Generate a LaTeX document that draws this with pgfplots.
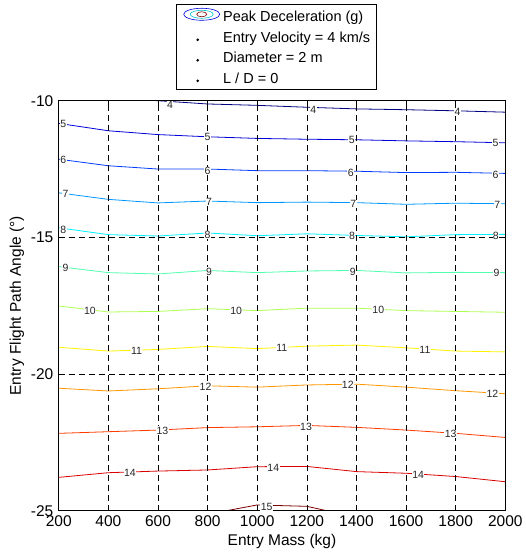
\documentclass[border=0pt]{standalone}
\usepackage{fontspec}
\setmainfont{Liberation Sans}
\usepackage{pgfplots}
\pgfplotsset{compat=1.18}
\definecolor{c4}{rgb}{0,0,0.5}
\definecolor{c5}{rgb}{0,0,0.86}
\definecolor{c6}{rgb}{0,0.23,1}
\definecolor{c7}{rgb}{0,0.59,1}
\definecolor{c8}{rgb}{0,0.95,1}
\definecolor{c9}{rgb}{0.32,1,0.68}
\definecolor{c10}{rgb}{0.68,1,0.32}
\definecolor{c11}{rgb}{1,0.95,0}
\definecolor{c12}{rgb}{1,0.59,0}
\definecolor{c13}{rgb}{1,0.23,0}
\definecolor{c14}{rgb}{0.86,0,0}
\definecolor{c15}{rgb}{0.5,0,0}
\begin{document}
\fontsize{15.5}{18}\selectfont
\begin{tikzpicture}
\begin{axis}[
  scale only axis, width=446.6pt, height=410pt,
  xmin=200, xmax=2000, ymin=-25, ymax=-10,
  xtick={200,400,...,2000}, ytick={-25,-20,-15,-10},
  /pgf/number format/assume math mode=true,
  /pgf/number format/1000 sep={},
  tick label style={font=\fontsize{15.5}{18}\selectfont},
  label style={font=\fontsize{15.5}{18}\selectfont},
  xlabel={Entry Mass (kg)},
  ylabel={Entry Flight Path Angle (°)},
  xlabel style={at={(axis description cs:0.5,-0.0756)}, anchor=center},
  ylabel style={at={(axis description cs:-0.0934,0.5)}, anchor=center},
  tick align=inside, major tick length=4pt,
  tick style={black, line width=0.5pt},
  axis line style={black, line width=0.6pt},
  grid=major,
  grid style={black, dash pattern=on 6pt off 4pt, line width=0.5pt},
  axis on top,
  legend cell align=left,
  legend style={at={(0.2627,1.2359)}, anchor=north west, draw=black,
    line width=0.6pt, fill=white,
    inner xsep=3pt, inner ysep=3.5pt, row sep=3.5pt,
    font=\fontsize{14.5}{17}\selectfont,
    nodes={inner xsep=3pt, inner ysep=1pt, text height=13pt, text depth=2pt}},
  every axis plot/.append style={line width=0.8pt},
]
\addlegendimage{legend image code/.code={
  \path (0pt,0pt) (40pt,0pt);
  \draw[c5, line width=0.6pt] (22pt,2pt) ellipse [x radius=18pt, y radius=6pt];
  \draw[c8!80!black, line width=0.6pt] (22pt,2pt) ellipse [x radius=11.5pt, y radius=4pt];
  \draw[c15, line width=0.6pt] (22pt,2pt) ellipse [x radius=5pt, y radius=2.5pt];
}}
\addlegendentry{Peak Deceleration (g)}
\addlegendimage{legend image code/.code={
  \path (0pt,0pt) (40pt,0pt);
  \fill[black] (18pt,-3pt) circle (0.9pt);
}}
\addlegendentry{Entry Velocity = 4 km/s}
\addlegendimage{legend image code/.code={
  \path (0pt,0pt) (40pt,0pt);
  \fill[black] (18pt,-3pt) circle (0.9pt);
}}
\addlegendentry{Diameter = 2 m}
\addlegendimage{legend image code/.code={
  \path (0pt,0pt) (40pt,0pt);
  \fill[black] (18pt,-3pt) circle (0.9pt);
}}
\addlegendentry{L / D = 0}

\addplot[forget plot, c4] coordinates {(200,-9.75) (400,-9.9) (600,-10.0) (800,-10.12) (1000,-10.17) (1200,-10.24) (1400,-10.30) (1600,-10.33) (1800,-10.37) (2000,-10.42)};
\addplot[forget plot, c5] coordinates {(200,-10.83) (400,-11.10) (600,-11.24) (800,-11.32) (1000,-11.38) (1200,-11.41) (1400,-11.43) (1600,-11.47) (1800,-11.50) (2000,-11.54)};
\addplot[forget plot, c6] coordinates {(200,-12.14) (400,-12.38) (600,-12.50) (800,-12.50) (1000,-12.56) (1200,-12.56) (1400,-12.58) (1600,-12.63) (1800,-12.62) (2000,-12.66)};
\addplot[forget plot, c7] coordinates {(200,-13.37) (400,-13.61) (600,-13.74) (800,-13.67) (1000,-13.73) (1200,-13.71) (1400,-13.73) (1600,-13.79) (1800,-13.75) (2000,-13.77)};
\addplot[forget plot, c8] coordinates {(200,-14.65) (400,-14.90) (600,-14.95) (800,-14.84) (1000,-14.94) (1200,-14.87) (1400,-14.93) (1600,-14.98) (1800,-14.90) (2000,-14.89)};
\addplot[forget plot, c9] coordinates {(200,-16.07) (400,-16.29) (600,-16.34) (800,-16.21) (1000,-16.29) (1200,-16.23) (1400,-16.21) (1600,-16.30) (1800,-16.28) (2000,-16.29)};
\addplot[forget plot, c10] coordinates {(200,-17.51) (400,-17.73) (600,-17.71) (800,-17.61) (1000,-17.68) (1200,-17.59) (1400,-17.59) (1600,-17.68) (1800,-17.71) (2000,-17.74)};
\addplot[forget plot, c11] coordinates {(200,-19.02) (400,-19.16) (600,-19.10) (800,-18.99) (1000,-19.07) (1200,-18.98) (1400,-18.94) (1600,-19.04) (1800,-19.16) (2000,-19.19)};
\addplot[forget plot, c12] coordinates {(200,-20.52) (400,-20.62) (600,-20.54) (800,-20.43) (1000,-20.48) (1200,-20.40) (1400,-20.37) (1600,-20.48) (1800,-20.61) (2000,-20.72)};
\addplot[forget plot, c13] coordinates {(200,-22.17) (400,-22.11) (600,-22.05) (800,-21.96) (1000,-21.93) (1200,-21.88) (1400,-21.95) (1600,-22.05) (1800,-22.17) (2000,-22.32)};
\addplot[forget plot, c14] coordinates {(200,-23.78) (400,-23.61) (600,-23.55) (800,-23.51) (1000,-23.39) (1200,-23.38) (1400,-23.57) (1600,-23.63) (1800,-23.75) (2000,-23.94)};
\addplot[forget plot, c15] coordinates {(800,-25.13) (1000,-24.79) (1200,-24.84) (1400,-25.24)};

\addplot[forget plot, draw=none, mark=none, nodes near coords, point meta=explicit symbolic,
  nodes near coords align=center,
  every node near coord/.append style={anchor=center, fill=white, inner sep=0.4pt,
    text=black!85, font=\fontsize{10.5}{12}\selectfont}]
coordinates {
 (649,-10.16) [4] (1226,-10.34) [4] (1808,-10.40) [4]
 (219,-10.84) [5] (800,-11.32) [5] (1381,-11.45) [5] (1961,-11.56) [5]
 (219,-12.17) [6] (800,-12.56) [6] (1377,-12.63) [6] (1961,-12.70) [6]
 (228,-13.42) [7] (806,-13.72) [7] (1387,-13.78) [7] (1968,-13.80) [7]
 (219,-14.72) [8] (800,-14.92) [8] (1382,-14.95) [8] (1962,-14.95) [8]
 (228,-16.12) [9] (806,-16.25) [9] (1385,-16.27) [9] (1965,-16.30) [9]
 (326,-17.70) [10] (915,-17.70) [10] (1488,-17.66) [10]
 (514,-19.16) [11] (1099,-19.04) [11] (1676,-19.13) [11]
 (792,-20.47) [12] (1365,-20.41) [12] (1948,-20.74) [12]
 (618,-22.07) [13] (1197,-21.93) [13] (1780,-22.20) [13]
 (487,-23.62) [14] (1065,-23.42) [14] (1649,-23.70) [14]
 (1038,-24.86) [15]
};
\end{axis}
\pgfresetboundingbox
\path ([shift={(-58.7pt,-45.3pt)}]current axis.south west) rectangle ([shift={(466.3pt,510.7pt)}]current axis.south west);
\end{tikzpicture}
\end{document}
